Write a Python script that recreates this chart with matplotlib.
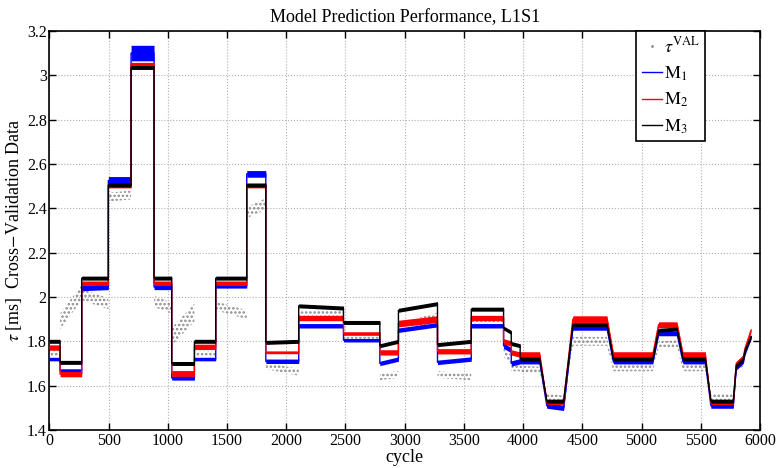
import numpy as np
import matplotlib
matplotlib.use("Agg")
import matplotlib.pyplot as plt
from matplotlib.ticker import FuncFormatter

plt.rcParams['font.family'] = ['Liberation Serif', 'DejaVu Serif']
plt.rcParams['mathtext.fontset'] = 'stix'
plt.rcParams['hatch.linewidth'] = 1.2

# ---- data ----
block_start = [0, 89, 272, 497, 689, 883, 1032, 1224, 1404, 1666, 1827, 2105, 2483, 2790,
               2947, 3277, 3562, 3835, 3900, 3975, 4200, 4420, 4762, 5144, 5350, 5586, 5800, 5875]
block_end = [89, 272, 497, 689, 883, 1032, 1224, 1404, 1666, 1827, 2105, 2483, 2790, 2947,
             3277, 3562, 3835, 3900, 3975, 4140, 4342, 4708, 5095, 5300, 5539, 5775, 5860, 5925]

# M3 (black)
m3_start = [1.80, 1.705, 2.085, 2.505, 3.035, 2.085, 1.70, 1.80, 2.085, 2.505, 1.795, 1.96, 1.885, 1.78,
            1.94, 1.785, 1.945, 1.86, 1.79, 1.72, 1.53, 1.875, 1.72, 1.85, 1.72, 1.53, 1.69, 1.76]
m3_end = [1.80, 1.705, 2.085, 2.505, 3.035, 2.085, 1.70, 1.80, 2.085, 2.505, 1.80, 1.95, 1.885, 1.80,
          1.97, 1.80, 1.945, 1.84, 1.78, 1.72, 1.53, 1.875, 1.72, 1.855, 1.72, 1.53, 1.72, 1.82]
m3_hw = [0.009] * 28

# M2 (red)
m2_start = [1.772, 1.652, 2.062, 2.50, 3.05, 2.062, 1.655, 1.775, 2.062, 2.50, 1.75, 1.905, 1.835, 1.75,
            1.88, 1.755, 1.905, 1.80, 1.75, 1.738, 1.525, 1.90, 1.738, 1.875, 1.738, 1.525, 1.70, 1.77]
m2_end = [1.772, 1.652, 2.062, 2.50, 3.05, 2.062, 1.655, 1.775, 2.062, 2.50, 1.75, 1.905, 1.835, 1.75,
          1.90, 1.755, 1.905, 1.79, 1.74, 1.738, 1.525, 1.90, 1.738, 1.875, 1.738, 1.525, 1.73, 1.85]
m2_hw = [0.012, 0.012, 0.010, 0.008, 0.008, 0.010, 0.013, 0.012, 0.010, 0.008, 0.006, 0.012, 0.008, 0.012,
         0.015, 0.012, 0.012, 0.012, 0.012, 0.015, 0.010, 0.015, 0.015, 0.013, 0.015, 0.010, 0.010, 0.010]

# M1 (blue)
m1_start = [1.72, 1.668, 2.04, 2.525, 3.10, 2.045, 1.635, 1.72, 2.05, 2.555, 1.71, 1.87, 1.805, 1.70,
            1.85, 1.705, 1.87, 1.78, 1.70, 1.708, 1.51, 1.86, 1.708, 1.835, 1.708, 1.51, 1.68, 1.75]
m1_end = [1.72, 1.668, 2.045, 2.525, 3.10, 2.045, 1.635, 1.72, 2.05, 2.555, 1.71, 1.87, 1.805, 1.72,
          1.875, 1.72, 1.87, 1.76, 1.71, 1.708, 1.50, 1.86, 1.708, 1.835, 1.708, 1.51, 1.71, 1.82]
m1_hw = [0.008, 0.008, 0.012, 0.018, 0.035, 0.012, 0.010, 0.008, 0.010, 0.015, 0.010, 0.010, 0.008, 0.010,
         0.010, 0.010, 0.010, 0.012, 0.012, 0.010, 0.012, 0.010, 0.010, 0.010, 0.010, 0.012, 0.010, 0.010]

# tau^VAL (grey validation cloud)
val_start = [1.75, 1.89, 2.01, 2.45, 3.04, 1.98, 1.82, 1.745, 1.96, 2.38, 1.69, 1.92, 1.81, 1.64,
             1.86, 1.65, 1.89, 1.75, 1.68, 1.675, 1.55, 1.80, 1.68, 1.785, 1.68, 1.55, 1.69, 1.75]
val_end = [1.75, 2.02, 1.97, 2.46, 3.04, 1.95, 1.93, 1.745, 1.92, 2.42, 1.66, 1.93, 1.81, 1.65,
           1.91, 1.64, 1.90, 1.72, 1.68, 1.67, 1.54, 1.80, 1.68, 1.79, 1.68, 1.55, 1.70, 1.80]
val_hw = [0.02, 0.035, 0.025, 0.02, 0.015, 0.025, 0.04, 0.012, 0.02, 0.025, 0.015, 0.015, 0.01, 0.015,
          0.02, 0.015, 0.015, 0.02, 0.015, 0.015, 0.015, 0.02, 0.015, 0.015, 0.015, 0.015, 0.015, 0.02]

x_ticks = [0, 500, 1000, 1500, 2000, 2500, 3000, 3500, 4000, 4500, 5000, 5500, 6000]
y_ticks = [1.4, 1.6, 1.8, 2.0, 2.2, 2.4, 2.6, 2.8, 3.0, 3.2]


def vertices(ys, ye, hw):
    xs, yc, h = [], [], []
    for s, e, a, b, w in zip(block_start, block_end, ys, ye, hw):
        xs += [s, e]
        yc += [a, b]
        h += [w, w]
    return np.array(xs, float), np.array(yc), np.array(h)


fig = plt.figure(figsize=(7.77, 4.68), dpi=100)
ax = fig.add_axes([0.0637, 0.0812, 0.9143, 0.8528])

# validation cloud
vx, vy, vh = vertices(val_start, val_end, val_hw)
ax.fill_between(vx, vy - vh, vy + vh, facecolor='none', edgecolor='#8a8a8a',
                hatch='....', linewidth=0, zorder=2)

for ys, ye, hw, col, z in [(m1_start, m1_end, m1_hw, '#0000ff', 3),
                           (m2_start, m2_end, m2_hw, '#ff0000', 4),
                           (m3_start, m3_end, m3_hw, '#000000', 5)]:
    x, y, h = vertices(ys, ye, hw)
    ax.fill_between(x, y - h, y + h, color=col, linewidth=0, zorder=z)
    ax.plot(x, y, color=col, lw=1.0, zorder=z)

# legend handles
ax.plot([], [], linestyle='none', marker='.', markersize=2, color='#8c8c8c', label=r'$\tau^{\mathrm{VAL}}$')
ax.plot([], [], color='#0000ff', lw=1, label=r'$\mathrm{M}_1$')
ax.plot([], [], color='#ff0000', lw=1, label=r'$\mathrm{M}_2$')
ax.plot([], [], color='#000000', lw=1, label=r'$\mathrm{M}_3$')

ax.set_xlim(0, 6000)
ax.set_ylim(1.4, 3.2)
ax.set_xticks(x_ticks)
ax.set_yticks(y_ticks)
ax.yaxis.set_major_formatter(FuncFormatter(lambda v, p: '%g' % round(v, 2)))
ax.tick_params(direction='in', top=True, right=True, length=5, width=1, labelsize=11.5, pad=2)
ax.grid(True, linestyle=':', color='#b0b0b0', linewidth=0.8)
for sp in ax.spines.values():
    sp.set_linewidth(1.2)

ax.set_title('Model Prediction Performance, L1S1', fontsize=13, pad=6)
ax.set_xlabel('cycle', fontsize=13, labelpad=0)
ax.set_ylabel(r'$\tau$ [ms]  Cross$-$Validation Data', fontsize=13, labelpad=2)

leg = ax.legend(loc='upper right', bbox_to_anchor=(0.923, 1.0), fontsize=13, frameon=True, fancybox=False,
                handlelength=1.1, handletextpad=0.1, borderpad=0.3, labelspacing=0.45, borderaxespad=0.0)
leg.get_frame().set_edgecolor('black')
leg.get_frame().set_linewidth(1.2)
leg.get_frame().set_alpha(1)

fig.savefig('out.png', dpi=100)
